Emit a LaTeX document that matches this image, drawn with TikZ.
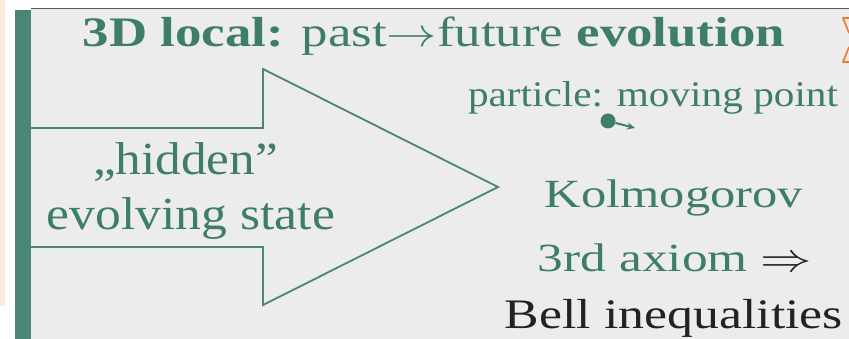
\documentclass[tikz,border=0pt]{standalone}
\usepackage{graphicx}
\usepackage{fontspec}
\setmainfont{Liberation Serif}
\usetikzlibrary{arrows.meta}
\definecolor{teal}{HTML}{3E7D6C}
\definecolor{barc}{HTML}{4A8677}
\definecolor{bgc}{HTML}{ECECEC}
\definecolor{peach}{HTML}{FCEBDD}
\definecolor{orangec}{HTML}{F07A2A}
\definecolor{darkt}{HTML}{222222}
\newcommand{\fitw}[2]{\resizebox{#1}{\height}{#2}}
\newcommand{\bigsym}[2]{\scalebox{#1}{\normalsize$#2$}}
\tikzset{
  txt/.style={inner sep=0pt, anchor=base, text=teal},
  arrowline/.style={draw=barc, line width=1.8pt, line join=miter},
  orangemark/.style={draw=orangec, line width=1.6pt}
}
\begin{document}
\begin{tikzpicture}[x=1pt,y=-1pt]
\useasboundingbox (0,0) rectangle (849,339);
\fill[white] (0,0) rectangle (849,339);
\fill[peach] (0,0) rectangle (5,306);
\fill[bgc] (31,9) rectangle (849,339);
\draw[darkt!75, line width=1.2pt] (31,8.5) -- (849,8.5);
\fill[barc] (15,10) rectangle (31,339);
% orange partial mark
\draw[orangemark] (849,18) -- (843,18) -- (849,33);
\draw[orangemark] (849,47) -- (843,62) -- (849,62);
% block arrow
\draw[arrowline] (31,128) -- (263,128) -- (263,69) -- (498,187) -- (263,305) -- (263,247) -- (31,247);
% texts
\node[txt, font=\fontsize{42}{42}\selectfont] (title) at (434,47) {\fitw{702pt}{\textbf{3D local:} past\bigsym{4}{\rightarrow}future \textbf{evolution}}};
\node[txt, font=\fontsize{36}{36}\selectfont] (part) at (653,107) {\fitw{370pt}{particle: moving point}};
\node[circle, fill=teal, inner sep=0pt, minimum size=15pt] (dot) at (608,121) {};
\coordinate (dotend) at (635,128);
\draw[teal, line width=2pt, -{Stealth[length=8pt,width=7pt]}] (dot) -- (dotend);
\node[txt, font=\fontsize{46}{46}\selectfont] (hid) at (185.5,175) {\fitw{185pt}{„hidden”}};
\node[txt, font=\fontsize{46}{46}\selectfont] (evs) at (191,230) {\fitw{288pt}{evolving state}};
\node[txt, font=\fontsize{40}{40}\selectfont] (kol) at (674,208) {\fitw{258pt}{Kolmogorov}};
\node[txt, font=\fontsize{40}{40}\selectfont] (ax) at (675,272) {\fitw{274pt}{3rd axiom \textcolor{darkt}{\bigsym{4}{\Rightarrow}}}};
\node[txt, text=darkt, font=\fontsize{42}{42}\selectfont] (bell) at (674,328) {\fitw{338pt}{Bell inequalities}};
\end{tikzpicture}
\end{document}
